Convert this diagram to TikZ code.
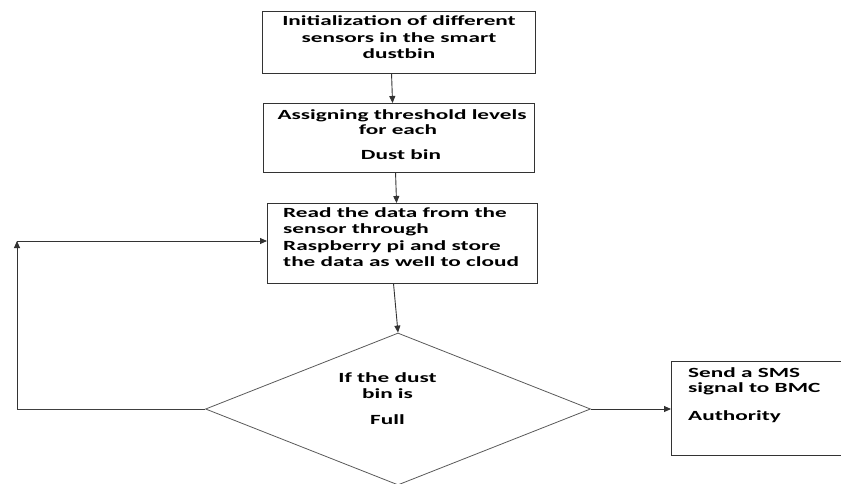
\documentclass[tikz,border=0pt]{standalone}
\usepackage{fontspec}
\setmainfont{Carlito}[FakeStretch=1.66]
\usetikzlibrary{arrows.meta,shapes.geometric}
\tikzset{
  boxnode/.style={draw=black!80, line width=1.1pt, rectangle, inner sep=0pt, anchor=north west},
  decnode/.style={draw=black!65, line width=0.8pt, diamond, inner sep=0pt},
  lbl/.style={inner sep=0pt, font=\fontsize{14}{16}\selectfont\bfseries, text=black},
  arr/.style={draw=black!80, line width=0.9pt, -{Triangle[length=7pt,width=6pt]}},
  ln/.style={draw=black!75, line width=0.9pt},
}
\begin{document}
\begin{tikzpicture}[x=1pt,y=-1pt]
\useasboundingbox (0,0) rectangle (841,483);
\clip (0,0) rectangle (841,483);
% boxes
\node[boxnode, minimum width=273pt, minimum height=62pt] (b1) at (262,11) {};
\node[boxnode, minimum width=271pt, minimum height=69pt] (b2) at (263,103) {};
\node[boxnode, minimum width=270pt, minimum height=80pt] (b3) at (267,203) {};
\node[boxnode, minimum width=180pt, minimum height=94pt] (b4) at (671,361) {};
\node[decnode, minimum width=385pt, minimum height=152pt] (d) at (398,409) {};
% texts
\node[lbl, anchor=base] (t1a) at (399,25.5) {Initialization of different};
\node[lbl, anchor=base] (t1b) at (399,42.5) {sensors in the smart};
\node[lbl, anchor=base] (t1c) at (399,58.5) {dustbin};
\node[lbl, anchor=base] (t2a) at (402,119) {Assigning threshold levels};
\node[lbl, anchor=base] (t2b) at (398,134.5) {for each};
\node[lbl, anchor=base] (t2c) at (401,159.5) {Dust bin};
\node[lbl, anchor=base west] (t3a) at (283,217.5) {Read the data from the};
\node[lbl, anchor=base west] (t3b) at (283,233.5) {sensor through};
\node[lbl, anchor=base west] (t3c) at (283,250.5) {Raspberry pi and store};
\node[lbl, anchor=base west] (t3d) at (283,266.5) {the data as well to cloud};
\node[lbl, anchor=base] (tda) at (387.5,382.5) {If the dust};
\node[lbl, anchor=base] (tdb) at (387.5,398.5) {bin is};
\node[lbl, anchor=base] (tdc) at (387.5,424.5) {Full};
\node[lbl, anchor=base west] (t4a) at (688,377.5) {Send a SMS};
\node[lbl, anchor=base west] (t4b) at (688,392.5) {signal to BMC};
\node[lbl, anchor=base west] (t4c) at (688,420.5) {Authority};
% connectors
\draw[arr] ([xshift=-7.5pt]b1.south) -- ([xshift=-6.5pt]b2.north);
\draw[arr] ([xshift=-3.5pt]b2.south) -- ([xshift=-6pt]b3.north);
\draw[arr] ([xshift=-9pt]b3.south) -- (d.north);
\coordinate (lc1) at (17,409);
\coordinate (lc2) at (17,241);
\draw[ln] (d.west) -- (lc1);
\draw[arr] (lc1) -- (lc2);
\draw[arr] (lc2) -- (b3.west |- lc2);
\draw[arr] (d.east) -- (b4.west |- d.east);
\end{tikzpicture}
\end{document}
